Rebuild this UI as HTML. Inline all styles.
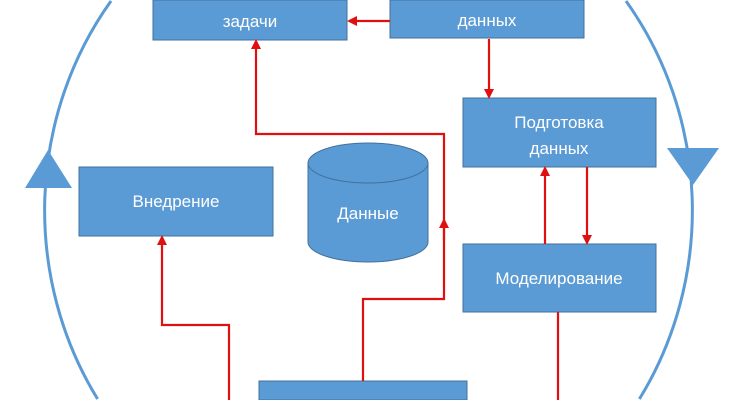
<!DOCTYPE html>
<html><head><meta charset="utf-8"><style>
html,body{margin:0;padding:0;background:#fff;width:738px;height:400px;overflow:hidden}
svg{display:block}
</style></head><body>
<svg width="738" height="400" viewBox="0 0 738 400" xmlns="http://www.w3.org/2000/svg" font-family="'Liberation Sans', sans-serif" overflow="hidden">
<defs>
<marker id="a" markerWidth="10" markerHeight="10" refX="8" refY="5" orient="auto" markerUnits="userSpaceOnUse">
<path d="M0,0 L10,5 L0,10 z" fill="#e01010"/></marker>
</defs>
<path d="M111,1 A324.5 345 0 0 0 97.6,399" fill="none" stroke="#5b9bd5" stroke-width="3"/>
<path d="M626,1 A324.5 345 0 0 1 639.4,399" fill="none" stroke="#5b9bd5" stroke-width="3"/>
<polygon points="48,150 25,188 72,188" fill="#5b9bd5"/>
<polygon points="693,185 667,148 719,148" fill="#5b9bd5"/>
<g fill="#5b9bd5" stroke="#41719c" stroke-width="1">
<rect x="153" y="0" width="194" height="40"/>
<rect x="390" y="0" width="194" height="38"/>
<rect x="463" y="98" width="193" height="69"/>
<rect x="463" y="244" width="193" height="68"/>
<rect x="79" y="167" width="194" height="69"/>
<rect x="259" y="381" width="208" height="19"/>
</g>
<path d="M308,163 L308,242 A60,20 0 0 0 428,242 L428,163" fill="#5b9bd5" stroke="#41719c"/>
<ellipse cx="368" cy="163" rx="60" ry="20" fill="#5b9bd5" stroke="#41719c"/>
<g fill="none" stroke="#e01010" stroke-width="2.2">
<line x1="390" y1="21" x2="349" y2="21" marker-end="url(#a)"/>
<line x1="489" y1="39" x2="489" y2="97" marker-end="url(#a)"/>
<line x1="545" y1="244" x2="545" y2="168" marker-end="url(#a)"/>
<line x1="587" y1="167" x2="587" y2="243" marker-end="url(#a)"/>
<line x1="558" y1="312" x2="558" y2="400"/>
<polyline points="363,381 363,299 444,299 444,134 256,134 256,41" marker-end="url(#a)"/>
<line x1="444" y1="240" x2="444" y2="220" marker-end="url(#a)"/>
<polyline points="229,400 229,325 162,325 162,237" marker-end="url(#a)"/>
</g>
<g fill="#fff" font-size="17" text-anchor="middle">
<text x="250" y="27">задачи</text>
<text x="487" y="26">данных</text>
<text x="559" y="128">Подготовка</text>
<text x="559" y="154">данных</text>
<text x="559" y="284">Моделирование</text>
<text x="176" y="207">Внедрение</text>
<text x="368" y="219">Данные</text>
</g>
</svg>
</body></html>
